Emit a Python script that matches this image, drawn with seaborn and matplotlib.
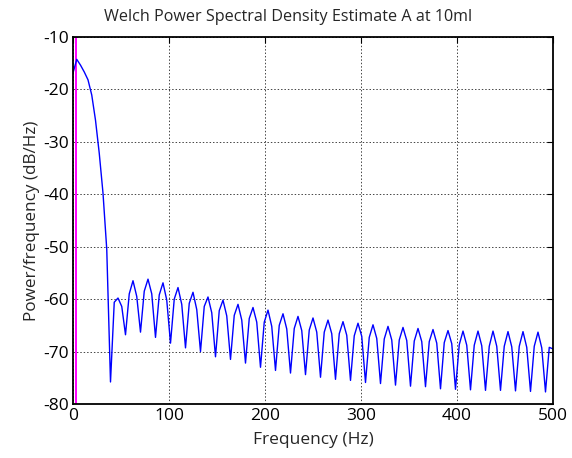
import numpy as np
import pandas as pd
import matplotlib
matplotlib.use("Agg")
import matplotlib.pyplot as plt
import seaborn as sns

# ---- data ----
n_bins = 129
f_max = 500.0
frequency_hz = np.linspace(0.0, f_max, n_bins)
psd_db = [
    -16.9, -14.3, -15.4, -16.7, -18.2, -21.1, -25.9, -32.2, -39.8, -50.5,
    -75.8, -60.6, -59.8, -61.4, -66.8, -59.0, -56.5, -59.5, -66.3, -58.5,
    -56.2, -59.0, -67.3, -59.2, -56.9, -60.2, -68.4, -60.0, -57.8, -61.0,
    -69.3, -60.8, -58.7, -62.0, -70.0, -61.4, -59.6, -62.6, -71.0, -62.2,
    -60.2, -63.2, -71.5, -63.1, -61.0, -64.0, -72.2, -63.7, -61.6, -64.4,
    -73.0, -64.4, -62.1, -65.2, -73.6, -65.0, -62.8, -65.7, -74.1, -65.6,
    -63.3, -66.0, -74.4, -65.9, -63.6, -66.3, -74.9, -66.3, -64.0, -66.6,
    -75.3, -66.6, -64.3, -66.9, -75.5, -67.0, -64.6, -67.1, -75.9, -67.3,
    -64.9, -67.5, -76.1, -67.6, -65.2, -67.8, -76.4, -67.8, -65.4, -67.9,
    -76.6, -68.0, -65.6, -68.1, -76.7, -68.1, -65.8, -68.4, -77.1, -68.3,
    -66.0, -68.5, -77.2, -68.7, -66.1, -68.8, -77.3, -68.8, -66.1, -68.9,
    -77.4, -69.0, -66.1, -69.0, -77.4, -69.0, -66.2, -69.1, -77.5, -69.0,
    -66.2, -69.2, -77.6, -69.0, -66.3, -69.3, -77.7, -69.2, -69.5,
]
marker_freq = 3.0
x_ticks = [0, 100, 200, 300, 400, 500]
y_ticks = [-80, -70, -60, -50, -40, -30, -20, -10]
title = "Welch Power Spectral Density Estimate A at 10ml"
x_label = "Frequency (Hz)"
y_label = "Power/frequency (dB/Hz)"

df = pd.DataFrame({"freq": frequency_hz, "psd": psd_db})

sns.set_style("white")
plt.rcParams["font.family"] = ["Open Sans", "DejaVu Sans"]
plt.rcParams["axes.unicode_minus"] = False

fig = plt.figure(figsize=(5.72, 4.58), dpi=100)
ax = fig.add_axes([73 / 572, 1 - 404 / 458, 480 / 572, (404 - 36.8) / 458])

sns.lineplot(data=df, x="freq", y="psd", ax=ax, color="#0000ff", linewidth=1.0)
ax.axvline(marker_freq, color="#ff00ff", linewidth=1.4, zorder=1)

ax.set_xlim(0, 500)
ax.set_ylim(-80, -10)
ax.set_xticks(x_ticks)
ax.set_yticks(y_ticks)
ax.grid(True, color="#444444", linestyle=(0, (1.5, 2)), linewidth=0.7)
ax.set_axisbelow(True)

for s in ax.spines.values():
    s.set_visible(True)
    s.set_color("black")
    s.set_linewidth(1.3)

ax.tick_params(direction="in", length=4, width=0.8, top=True, right=True,
               labelsize=12.5, colors="black", pad=3)

fig.text(288 / 572, 1 - 17 / 458, title, fontsize=11.6, ha="center", va="center")
ax.set_xlabel(x_label, fontsize=12.5, labelpad=6)
ax.set_ylabel(y_label, fontsize=12.3, labelpad=2)

fig.savefig("out.png", dpi=100)
